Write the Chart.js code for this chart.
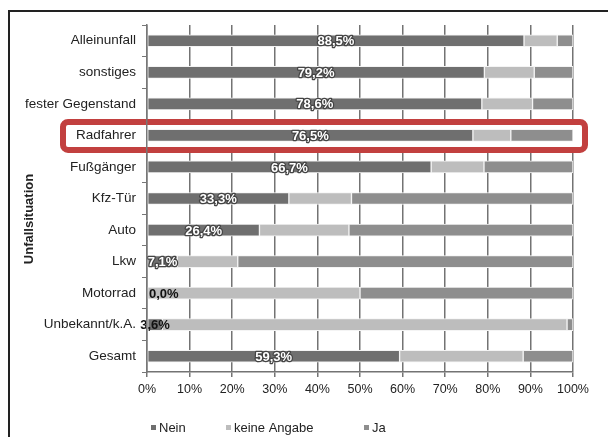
<!DOCTYPE html>
<html lang="de">
<head>
<meta charset="UTF-8">
<title>Unfallsituation</title>
<script src="https://cdn.jsdelivr.net/npm/chart.js"></script>
<style>
  body { margin: 0; background: #fff; overflow: hidden; }
  .frame {
    position: absolute; left: 8px; top: 10px; width: 640px; height: 460px;
    border-left: 2px solid #222; border-top: 2px solid #222;
  }
  #wrap { position: absolute; left: 0; top: 0; width: 608px; height: 437px; }
</style>
</head>
<body>
<div class="frame"></div>
<div id="wrap"><canvas id="chart" width="608" height="437"></canvas></div>
<script>
// data (percent of cases per situation)
const categories = ['Alleinunfall', 'sonstiges', 'fester Gegenstand', 'Radfahrer', 'Fußgänger',
  'Kfz-Tür', 'Auto', 'Lkw', 'Motorrad', 'Unbekannt/k.A.', 'Gesamt'];
const nein        = [88.5, 79.2, 78.6, 76.5, 66.7, 33.3, 26.4, 7.1, 0.0, 3.6, 59.3];
const keineAngabe = [7.8, 11.7, 11.9, 8.9, 12.4, 14.7, 21.0, 14.2, 50.0, 95.0, 29.0];
const ja          = [3.7, 9.1, 9.5, 14.6, 20.9, 52.0, 52.6, 78.7, 50.0, 1.4, 11.7];
const xTicks = [0, 10, 20, 30, 40, 50, 60, 70, 80, 90, 100];
const seriesNames = ['Nein', 'keine Angabe', 'Ja'];
const highlighted = 'Radfahrer';

const FONT = "'Liberation Sans', Arial, sans-serif";
const fmt = v => v.toFixed(1).replace('.', ',') + '%';

// white box with red outline behind the highlighted row
const highlightBox = {
  id: 'highlightBox',
  beforeDatasetsDraw(chart) {
    const ctx = chart.ctx;
    const y = chart.scales.y.getPixelForValue(categories.indexOf(highlighted));
    ctx.save();
    ctx.beginPath();
    ctx.roundRect(63, y - 13.5, 522, 28, 5);
    ctx.fillStyle = '#fff';
    ctx.fill();
    ctx.lineWidth = 6;
    ctx.strokeStyle = '#c2403f';
    ctx.stroke();
    ctx.restore();
  }
};

// value labels on the "Nein" segment
const neinLabels = {
  id: 'neinLabels',
  afterDatasetsDraw(chart) {
    const ctx = chart.ctx;
    const meta = chart.getDatasetMeta(0);
    ctx.save();
    ctx.font = 'bold 13px ' + FONT;
    ctx.textBaseline = 'middle';
    meta.data.forEach((bar, i) => {
      const v = nein[i];
      const txt = fmt(v);
      const x0 = Math.min(bar.base, bar.x);
      const cx = (bar.base + bar.x) / 2;
      const y = bar.y + 1;
      if (v < 5) {
        ctx.fillStyle = '#111';
        if (v === 0) {
          ctx.textAlign = 'left';
          ctx.fillText(txt, x0 + 2, y);
        } else {
          ctx.textAlign = 'center';
          ctx.fillText(txt, cx, y);
        }
      } else {
        ctx.textAlign = 'center';
        ctx.lineWidth = 2.5;
        ctx.strokeStyle = '#444';
        ctx.lineJoin = 'round';
        ctx.strokeText(txt, cx, y);
        ctx.fillStyle = '#fff';
        ctx.fillText(txt, cx, y);
      }
    });
    ctx.restore();
  }
};

// axis title and legend
const extras = {
  id: 'extras',
  afterDraw(chart) {
    const ctx = chart.ctx;
    ctx.save();
    ctx.translate(29, 219);
    ctx.rotate(-Math.PI / 2);
    ctx.font = 'bold 13px ' + FONT;
    ctx.fillStyle = '#222';
    ctx.textAlign = 'center';
    ctx.textBaseline = 'middle';
    ctx.fillText('Unfallsituation', 0, 0);
    ctx.restore();

    const legendX = [151, 226, 364];
    const ly = 428;
    ctx.save();
    ctx.font = '13px ' + FONT;
    ctx.textBaseline = 'middle';
    ctx.textAlign = 'left';
    chart.data.datasets.forEach((ds, i) => {
      ctx.fillStyle = ds.backgroundColor;
      ctx.fillRect(legendX[i], ly - 3, 5, 5);
      ctx.fillStyle = '#222';
      ctx.fillText(ds.label, legendX[i] + 8, ly);
    });
    ctx.restore();
  }
};

const colors = ['#6f6f6f', '#bdbdbd', '#8e8e8e'];
const values = [nein, keineAngabe, ja];

new Chart(document.getElementById('chart'), {
  type: 'bar',
  data: {
    labels: categories,
    datasets: values.map((data, i) => ({
      label: seriesNames[i],
      data: data,
      backgroundColor: colors[i],
      borderColor: '#f4f4f4',
      borderWidth: 1,
      borderSkipped: false,
      barThickness: 12
    }))
  },
  options: {
    indexAxis: 'y',
    responsive: false,
    animation: false,
    layout: { padding: { top: 25, right: 35, left: 0, bottom: 0 } },
    plugins: {
      legend: { display: false },
      tooltip: { enabled: false }
    },
    scales: {
      x: {
        stacked: true,
        min: 0,
        max: 100,
        afterBuildTicks: s => { s.ticks = xTicks.map(v => ({ value: v })); },
        afterFit: s => { s.height = 437 - 372; },
        grid: { color: '#737373', lineWidth: 1.5, tickLength: 5, tickColor: '#737373' },
        border: { color: '#737373', width: 1.5 },
        ticks: {
          padding: 5,
          color: '#222',
          font: { family: FONT, size: 12.5 },
          callback: v => v + '%'
        }
      },
      y: {
        stacked: true,
        afterFit: s => { s.width = 147; },
        grid: { drawOnChartArea: false, tickLength: 5, tickColor: '#777', offset: true },
        border: { color: '#777', width: 1.5, z: 1 },
        ticks: {
          z: 1,
          padding: 6,
          color: '#222',
          font: { family: FONT, size: 13.5 }
        }
      }
    }
  },
  plugins: [highlightBox, neinLabels, extras]
});
</script>
</body>
</html>
